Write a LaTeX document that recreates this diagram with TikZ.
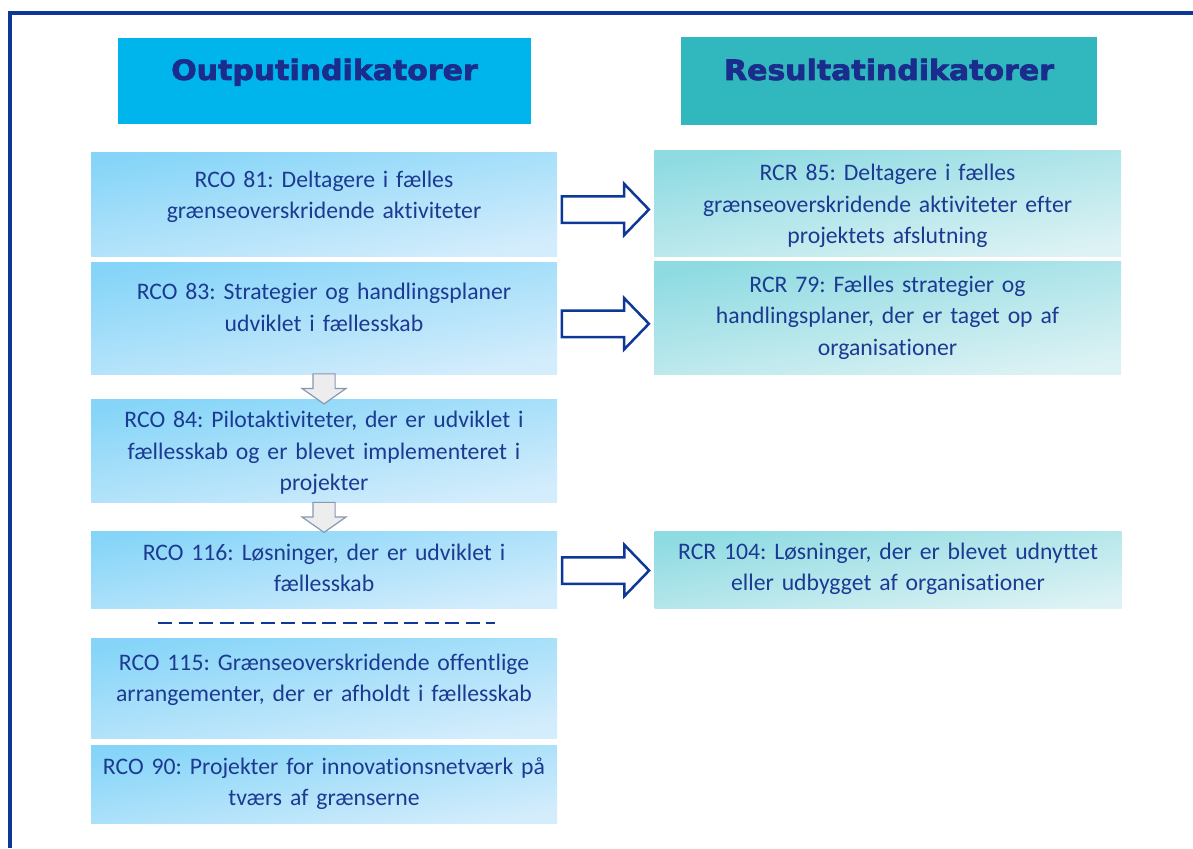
\documentclass[tikz,border=0pt]{standalone}
\usepackage{fontspec}
\setmainfont{Carlito}[Ligatures=NoCommon]
\newfontfamily\headfont{DejaVu Sans}[FakeStretch=1.07,BoldFeatures={FakeBold=2.6}]
\usetikzlibrary{calc,shapes.arrows}

\definecolor{framebl}{HTML}{0E3898}
\definecolor{textbl}{HTML}{1C3A92}
\definecolor{headbl}{HTML}{1A2D8C}
\definecolor{outcyan}{HTML}{00B4EC}
\definecolor{rescyan}{HTML}{31B8BE}
\definecolor{otop}{HTML}{86D5F8}
\definecolor{obot}{HTML}{D4EDFC}
\definecolor{rtop}{HTML}{8EDBE2}
\definecolor{rbot}{HTML}{DCF2F4}
\definecolor{downgray}{HTML}{EDEDED}
\definecolor{downline}{HTML}{8798B3}

\begin{document}
\frenchspacing
\begin{tikzpicture}[x=1pt,y=-1pt,
  head/.style={minimum width=413pt,minimum height=86pt,inner sep=0pt,text=headbl,
    font=\headfont\bfseries\fontsize{28}{30}\selectfont,text height=15pt,text depth=17pt},
  obox/.style={minimum width=466pt,text width=458pt,align=center,inner sep=0pt,
    text=textbl,font=\fontsize{23.7}{31.7}\selectfont,
    top color=otop,bottom color=obot,shading angle=10,text height=20pt,text depth=#1},
  rbox/.style={obox=#1,minimum width=467pt,top color=rtop,bottom color=rbot,shading angle=10},
  rarrow/.style={single arrow,draw=framebl,fill=white,line width=2.5pt,
    inner xsep=0pt,inner ysep=12pt,minimum height=87pt,
    single arrow head extend=12.5pt,single arrow tip angle=92},
  darrow/.style={single arrow,shape border rotate=270,draw=downline,fill=downgray,
    line width=1.2pt,inner sep=10.5pt,minimum height=30pt,
    single arrow head extend=11pt,single arrow tip angle=110},
  sepline/.style={framebl,line width=2.8pt,dash pattern=on 14pt off 6.5pt}]
\useasboundingbox (0,0) rectangle (1193,848);

% frame
\draw[framebl,line width=4pt] (9.5,848) -- (9.5,13.5) -- (1193,13.5);

% headings
\node[head,fill=outcyan] (hout) at (324.5,81) {Outputindikatorer};
\node[head,fill=rescyan,minimum width=416pt,minimum height=88pt] (hres) at (889,81) {Resultatindikatorer};

% output side
\node[obox=54pt,minimum height=104pt] (o81) at (324,204) {RCO 81: Deltagere i fælles\\grænseoverskridende aktiviteter};
\node[obox=57pt,minimum height=112pt] (o83) at (324,318) {RCO 83: Strategier og handlingsplaner\\udviklet i fællesskab};
\node[obox=66pt,minimum height=103pt] (o84) at (324,450.5) {RCO 84: Pilotaktiviteter, der er udviklet i\\fællesskab og er blevet implementeret i\\projekter};
\node[obox=39pt,minimum height=77pt] (o116) at (324,569.5) {RCO 116: Løsninger, der er udviklet i\\fællesskab};
\node[obox=56pt,minimum height=100pt] (o115) at (324,688) {RCO 115: Grænseoverskridende offentlige\\arrangementer, der er afholdt i fællesskab};
\node[obox=41pt,minimum height=78pt] (o90) at (324,784.5) {RCO 90: Projekter for innovationsnetværk på\\tværs af grænserne};

% result side
\node[rbox=65pt,minimum height=106pt] (r85) at (887.5,203) {RCR 85: Deltagere i fælles\\grænseoverskridende aktiviteter efter\\projektets afslutning};
\node[rbox=71pt,minimum height=113pt] (r79) at (887.5,317.5) {RCR 79: Fælles strategier og\\handlingsplaner, der er taget op af\\organisationer};
\node[rbox=41pt,minimum height=77pt] (r104) at (888,569.5) {RCR 104: Løsninger, der er blevet udnyttet\\eller udbygget af organisationer};

% arrows
\foreach \a/\b/\s in {o81/r85/6,o83/r79/6,o116/r104/1}
    \node[rarrow] (\a-\b) at ($(\a.east)!0.5!(\b.west)+(-6.5,\s)$) {};

\node[darrow] (o83-o84) at ($(o83.south)!0.5!(o84.north)+(0,-1.5)$) {};
\node[darrow] (o84-o116) at ($(o84.south)!0.5!(o116.north)+(0,-3)$) {};

\draw[sepline] ($(o116.south)!0.5!(o115.north)+(-166,0)$) -- ++(337,0);
\end{tikzpicture}
\end{document}
